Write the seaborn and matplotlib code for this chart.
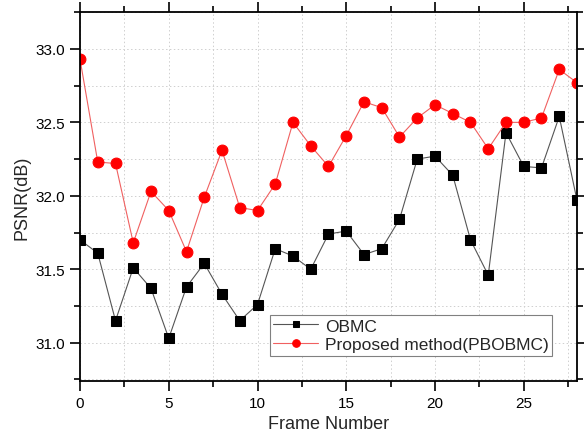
import numpy as np
import pandas as pd
import seaborn as sns
import matplotlib.pyplot as plt
from matplotlib.ticker import MultipleLocator

sns.set_theme(style="ticks")
plt.rcParams['font.family'] = ['Liberation Sans', 'DejaVu Sans']

# data
frames = list(range(29))
obmc = [31.70, 31.61, 31.15, 31.51, 31.37, 31.03, 31.38, 31.54, 31.33, 31.15,
        31.26, 31.64, 31.59, 31.50, 31.74, 31.76, 31.60, 31.64, 31.84, 32.25,
        32.27, 32.14, 31.70, 31.46, 32.43, 32.20, 32.19, 32.54, 31.97]
pbobmc = [32.93, 32.23, 32.22, 31.68, 32.03, 31.90, 31.62, 31.99, 32.31, 31.92,
          31.90, 32.08, 32.50, 32.34, 32.20, 32.41, 32.64, 32.60, 32.40, 32.53,
          32.62, 32.56, 32.50, 32.32, 32.50, 32.50, 32.53, 32.86, 32.77]

df = pd.DataFrame({'frame': frames, 'OBMC': obmc, 'Proposed method(PBOBMC)': pbobmc})

fig = plt.figure(figsize=(5.84, 4.39), dpi=100)
ax = fig.add_axes([0.137, 0.130, 0.851, 0.840])

sns.lineplot(ax=ax, data=df, x='frame', y='OBMC', color='#555555', lw=0.8,
             marker='s', markersize=6.8, markerfacecolor='black', markeredgecolor='black',
             label='OBMC')
sns.lineplot(ax=ax, data=df, x='frame', y='Proposed method(PBOBMC)', color='#f06060', lw=0.8,
             marker='o', markersize=7.8, markerfacecolor='#ff0000', markeredgecolor='#ff0000',
             label='Proposed method(PBOBMC)')

ax.set_xlim(0, 28)
ax.set_ylim(30.74, 33.25)
ax.xaxis.set_major_locator(MultipleLocator(5))
ax.xaxis.set_minor_locator(MultipleLocator(2.5))
ax.yaxis.set_major_locator(MultipleLocator(0.5))
ax.yaxis.set_minor_locator(MultipleLocator(0.25))
ax.yaxis.set_major_formatter(plt.FormatStrFormatter('%.1f'))
ax.grid(True, which='both', color='#cfcfcf', linestyle=(0, (1.5, 2.5)), lw=0.7)

ax.tick_params(which='both', direction='out', top=True, right=True, width=1.2,
               labelsize=11, colors='black')
ax.tick_params(which='major', length=7)
ax.tick_params(which='minor', length=4)
for s in ax.spines.values():
    s.set_color('black')
    s.set_linewidth(1.3)

ax.set_xlabel('Frame Number', fontsize=13)
ax.set_ylabel('PSNR(dB)', fontsize=13)

leg = ax.legend(loc='lower right', bbox_to_anchor=(0.968, 0.045), fontsize=12.5,
                fancybox=False, framealpha=1, edgecolor='#808080', markerscale=0.7,
                handlelength=2.6, borderpad=0.2, labelspacing=0.2, handletextpad=0.4)
leg.get_frame().set_linewidth(0.8)

fig.savefig('out.png', dpi=100)
